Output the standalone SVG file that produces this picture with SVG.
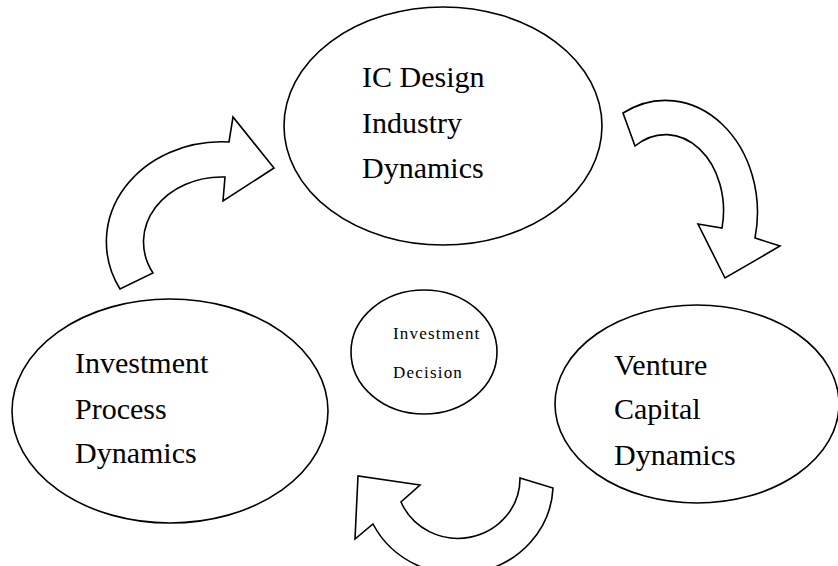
<svg xmlns="http://www.w3.org/2000/svg" width="838" height="566" viewBox="0 0 838 566">
<style>
.shape{fill:#fff;stroke:#000;stroke-width:1.6;stroke-linejoin:miter}
.big{font-family:"Liberation Serif","Times New Roman",serif;font-size:30px;fill:#000}
.small{font-family:"Liberation Serif","Times New Roman",serif;font-size:17px;letter-spacing:1.2px;fill:#000}
</style>
<rect width="838" height="566" fill="#fff"/>
<g id="connectors">
<path class="shape" d="M120,289 A115,100 0 0 1 229,142 L233,117 L274,168 L223,201 L225,177 A78,65 0 0 0 153,273 Z"/>
<path class="shape" d="M623,113 A92,112 0 0 1 755,238 L780,246 L725,278 L698,224 L722,228 A58,76 0 0 0 635,146 Z"/>
<path class="shape" d="M520,478 L553,488 A95,90 0 0 1 373,524 L355,539 L358,476 L420,485 L401,502 A62,60 0 0 0 520,478 Z"/>
</g>
<g id="ic-design">
<ellipse class="shape" cx="443" cy="126" rx="159" ry="119"/>
<text class="big" x="362" y="87">IC Design</text>
<text class="big" x="362" y="133">Industry</text>
<text class="big" x="362" y="178">Dynamics</text>
</g>
<g id="investment-process">
<ellipse class="shape" cx="170" cy="411" rx="158" ry="112"/>
<text class="big" x="75" y="373">Investment</text>
<text class="big" x="75" y="419">Process</text>
<text class="big" x="75" y="463">Dynamics</text>
</g>
<g id="venture-capital">
<ellipse class="shape" cx="697" cy="404" rx="142" ry="99"/>
<text class="big" x="614" y="375">Venture</text>
<text class="big" x="614" y="419">Capital</text>
<text class="big" x="614" y="465">Dynamics</text>
</g>
<g id="investment-decision">
<ellipse class="shape" cx="424" cy="352" rx="73" ry="62"/>
<text class="small" x="393" y="339">Investment</text>
<text class="small" x="393" y="378">Decision</text>
</g>
</svg>
